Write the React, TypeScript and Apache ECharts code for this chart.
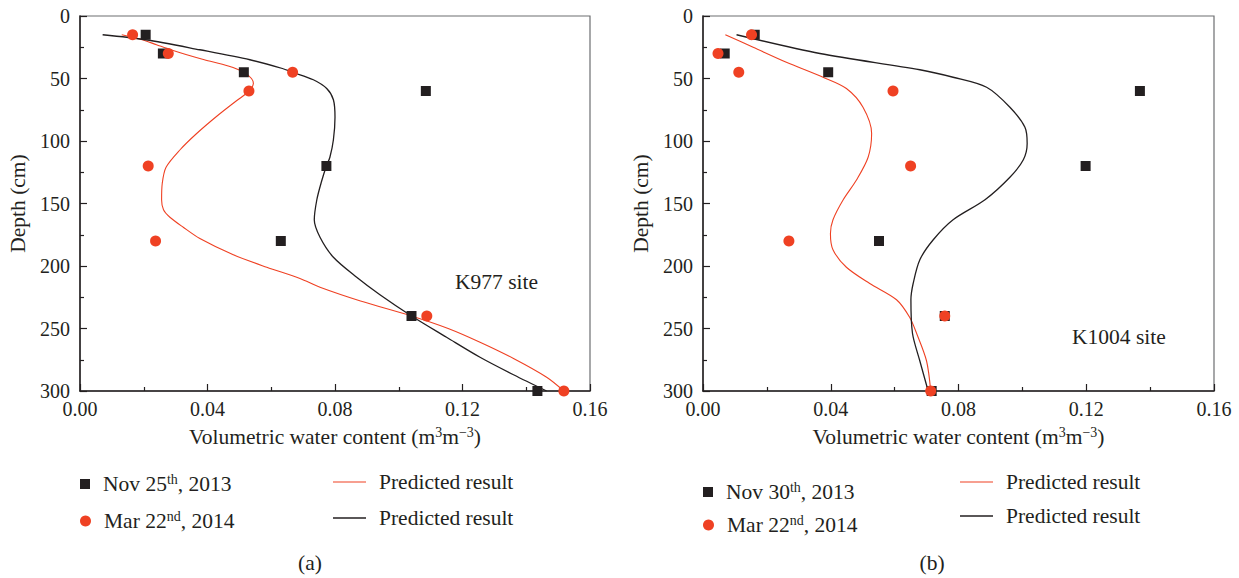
import React, { useEffect, useRef } from "react";
import * as echarts from "echarts";

// ---- data ----
const obsDepths = [15, 30, 45, 60, 120, 180, 240, 300];
// panel (a) K977 site
const aNov = [0.0206, 0.026, 0.0514, 0.1085, 0.0773, 0.063, 0.104, 0.1435];
const aMar = [0.0165, 0.0277, 0.0667, 0.053, 0.0214, 0.0237, 0.1088, 0.1518];
// predicted curves: [depth, value]
const aRed: number[][] = [
  [15, 0.0131], [19, 0.0195], [23, 0.024], [27, 0.0285], [31, 0.0335], [35, 0.039],
  [40, 0.0465], [45, 0.0515], [50, 0.0538], [54, 0.0544], [58, 0.0537], [62, 0.0522],
  [68, 0.049], [80, 0.043], [94, 0.0366], [107, 0.0314], [121, 0.027], [134, 0.0258],
  [147, 0.0256], [155, 0.0262], [161, 0.0282], [169, 0.0324], [178, 0.0376], [191, 0.0481],
  [201, 0.0586], [210, 0.069], [217, 0.0753], [228, 0.088], [240, 0.104], [250, 0.1155],
  [261, 0.1255], [274, 0.136], [289, 0.1464], [300, 0.1518],
];
const aBlack: number[][] = [
  [15, 0.0071], [19, 0.0206], [27, 0.0376], [35, 0.0533], [42, 0.0635], [45, 0.0667],
  [51, 0.0732], [58, 0.0774], [67, 0.0795], [81, 0.08], [99, 0.0795], [113, 0.0784],
  [120, 0.0773], [133, 0.0757], [147, 0.0743], [163, 0.0735], [177, 0.0753], [193, 0.0795],
  [209, 0.0868], [223, 0.0941], [240, 0.104], [257, 0.115], [273, 0.1255], [287, 0.136],
  [300, 0.1464],
];
// panel (b) K1004 site
const bNov = [0.0162, 0.0068, 0.0392, 0.1368, 0.1198, 0.0551, 0.0757, 0.0716];
const bMar = [0.0152, 0.0047, 0.0112, 0.0595, 0.065, 0.0269, 0.0757, 0.0713];
const bRed: number[][] = [
  [15, 0.007], [25, 0.0157], [37, 0.0261], [49, 0.0376], [58, 0.0449], [73, 0.0501],
  [94, 0.0528], [113, 0.0517], [131, 0.0481], [147, 0.0439], [163, 0.0407], [174, 0.0399],
  [187, 0.0407], [201, 0.0449], [214, 0.0522], [227, 0.0606], [241, 0.0647], [254, 0.0669],
  [276, 0.07], [300, 0.0713],
];
const bBlack: number[][] = [
  [15, 0.0105], [30, 0.0366], [43, 0.0679], [49, 0.0783], [57, 0.0888], [73, 0.0961],
  [89, 0.1008], [102, 0.1015], [115, 0.1003], [129, 0.0961], [147, 0.0883], [163, 0.0783],
  [179, 0.0721], [195, 0.0679], [214, 0.0658], [227, 0.0651], [254, 0.0656], [276, 0.0679],
  [300, 0.0705],
];

const legendLabels: Record<string, string> = {
  "a-nov": "{g| }{t|Nov 25}{s|th}{t|, 2013}",
  "a-mar": "{g| }{t|Mar 22}{s|nd}{t|, 2014}",
  "a-red": "{g| }{t|Predicted result}",
  "a-black": "{g| }{t|Predicted result}",
  "b-nov": "{g| }{t|Nov 30}{s|th}{t|, 2013}",
  "b-mar": "{g| }{t|Mar 22}{s|nd}{t|, 2014}",
  "b-red": "{g| }{t|Predicted result}",
  "b-black": "{g| }{t|Predicted result}",
};

const FONT = "'Liberation Serif', 'DejaVu Serif', serif";
const INK = "#231f20";
const RED = "#ef4123";
const FS = 21.5;

const rich = {
  t: { fontSize: FS, fontFamily: FONT, color: INK, lineHeight: 24 },
  s: { fontSize: 14, fontFamily: FONT, color: INK, lineHeight: 12, verticalAlign: "top" },
  g: { width: 8, fontSize: FS, fontFamily: FONT, lineHeight: 24 },
};

function legendItem(name: string, left: number, cy: number, icon: string, w: number, h: number, color: string) {
  return {
    data: [{ name, icon, itemStyle: { color, borderWidth: 0 } }],
    left,
    top: cy - 12,
    itemWidth: w,
    itemHeight: h,
    selectedMode: false,
    padding: 0,
    formatter: (n: string) => legendLabels[n],
    textStyle: { rich, fontFamily: FONT, fontSize: FS, color: INK },
  };
}

function xAxis(gridIndex: number) {
  return {
    type: "value",
    gridIndex,
    min: 0,
    max: 0.16,
    interval: 0.04,
    axisLine: { onZero: false, lineStyle: { color: INK, width: 1.5 } },
    axisTick: { inside: true, length: 7, lineStyle: { color: INK, width: 1.2 } },
    minorTick: { show: true, splitNumber: 2, length: 4, lineStyle: { color: INK, width: 1.2 } },
    splitLine: { show: false },
    axisLabel: {
      formatter: (v: number) => v.toFixed(2),
      fontSize: 20,
      fontFamily: FONT,
      color: INK,
      margin: 8,
    },
    name: "{t|Volumetric water content (m}{s|3}{t|m}{s|\u22123}{t|)}",
    nameLocation: "middle",
    nameGap: 34,
    nameTextStyle: { rich },
  };
}

function yAxis(gridIndex: number) {
  return {
    type: "value",
    gridIndex,
    inverse: true,
    min: 0,
    max: 300,
    interval: 50,
    axisLine: { onZero: false, lineStyle: { color: INK, width: 1.5 } },
    axisTick: { inside: true, length: 7, lineStyle: { color: INK, width: 1.2 } },
    minorTick: { show: true, splitNumber: 2, length: 4, lineStyle: { color: INK, width: 1.2 } },
    splitLine: { show: false },
    axisLabel: { fontSize: 20, fontFamily: FONT, color: INK, margin: 10 },
    name: "Depth (cm)",
    nameLocation: "middle",
    nameGap: 51,
    nameTextStyle: { fontSize: FS, fontFamily: FONT, color: INK },
  };
}

function curve(name: string, idx: number, pts: number[][], color: string, width: number) {
  return {
    name,
    type: "line",
    xAxisIndex: idx,
    yAxisIndex: idx,
    data: pts.map(([d, v]) => [v, d]),
    smooth: 0.3,
    symbol: "none",
    color,
    lineStyle: { color, width },
    z: 2,
  };
}

function points(name: string, idx: number, vals: number[], symbol: string, size: number, color: string, z: number) {
  return {
    name,
    type: "scatter",
    xAxisIndex: idx,
    yAxisIndex: idx,
    data: obsDepths.map((d, i) => [vals[i], d]),
    symbol,
    symbolSize: size,
    itemStyle: { color, opacity: 1 },
    z,
  };
}

export default function App() {
  const ref = useRef<HTMLDivElement>(null);
  useEffect(() => {
    document.body.style.margin = "0";
    const chart = echarts.init(ref.current!, undefined, { renderer: "svg" });
    chart.setOption({
      animation: false,
      backgroundColor: "#ffffff",
      textStyle: { fontFamily: FONT },
      grid: [
        { left: 80, top: 16, width: 510, height: 375, show: true, borderColor: "#6d6e71", borderWidth: 1.2 },
        { left: 703, top: 16, width: 511, height: 375, show: true, borderColor: "#6d6e71", borderWidth: 1.2 },
      ],
      xAxis: [xAxis(0), xAxis(1)],
      yAxis: [yAxis(0), yAxis(1)],
      legend: [
        legendItem("a-nov", 80, 484, "rect", 10, 10, INK),
        legendItem("a-mar", 80, 521, "circle", 11, 11, RED),
        legendItem("a-red", 333, 483, "rect", 33, 1.2, RED),
        legendItem("a-black", 333, 519, "rect", 33, 1.5, INK),
        legendItem("b-nov", 703, 492, "rect", 10, 10, INK),
        legendItem("b-mar", 703, 525, "circle", 11, 11, RED),
        legendItem("b-red", 960, 483, "rect", 33, 1.2, RED),
        legendItem("b-black", 960, 517, "rect", 33, 1.5, INK),
      ],
      graphic: [
        { type: "text", x: 455, y: 282, style: { text: "K977 site", fontSize: FS, fontFamily: FONT, fill: INK, verticalAlign: "middle" } },
        { type: "text", x: 1072, y: 337, style: { text: "K1004 site", fontSize: FS, fontFamily: FONT, fill: INK, verticalAlign: "middle" } },
        { type: "text", x: 310, y: 563, style: { text: "(a)", fontSize: FS, fontFamily: FONT, fill: INK, align: "center", verticalAlign: "middle" } },
        { type: "text", x: 932, y: 563, style: { text: "(b)", fontSize: FS, fontFamily: FONT, fill: INK, align: "center", verticalAlign: "middle" } },
      ],
      series: [
        curve("a-red", 0, aRed, RED, 1.1),
        curve("a-black", 0, aBlack, INK, 1.3),
        points("a-nov", 0, aNov, "rect", 10, INK, 3),
        points("a-mar", 0, aMar, "circle", 11, RED, 4),
        curve("b-red", 1, bRed, RED, 1.1),
        curve("b-black", 1, bBlack, INK, 1.3),
        points("b-nov", 1, bNov, "rect", 10, INK, 3),
        points("b-mar", 1, bMar, "circle", 11, RED, 4),
      ],
    });
    return () => chart.dispose();
  }, []);
  return <div ref={ref} style={{ width: 1239, height: 578 }} />;
}
